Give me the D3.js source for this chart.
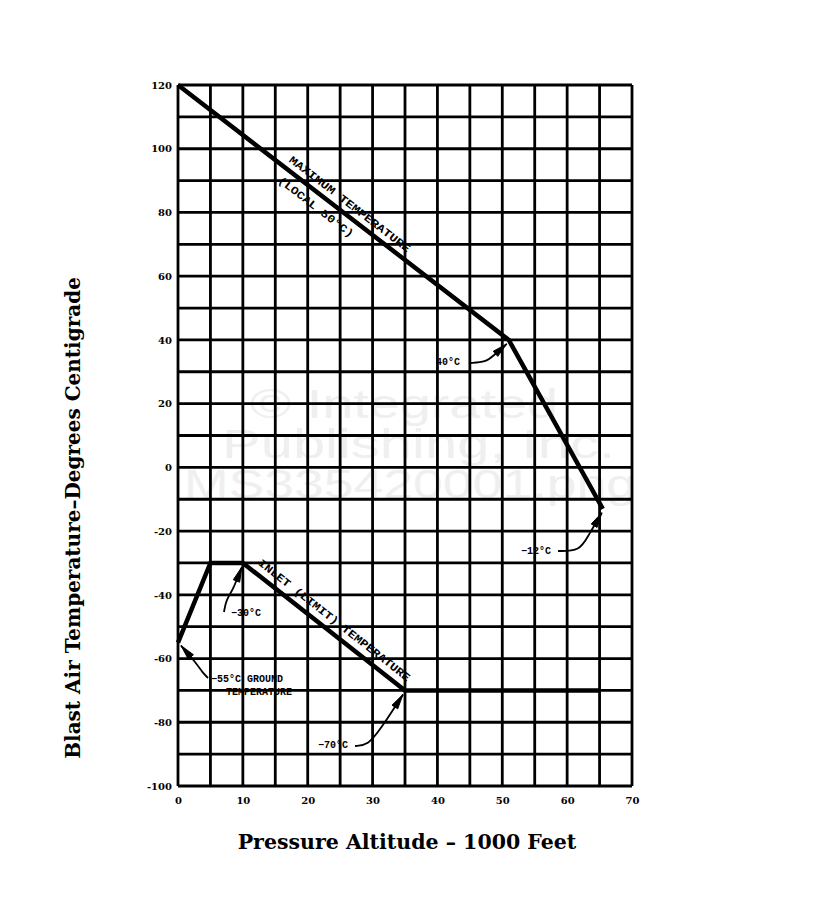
<!DOCTYPE html>
<html>
<head>
<meta charset="utf-8">
<script src="https://cdn.jsdelivr.net/npm/d3@7"></script>
<style>
  html, body { margin: 0; padding: 0; background: #fff; }
  svg { display: block; }
</style>
</head>
<body>
<svg id="chart" width="813" height="899"></svg>
<script>
// altitude (1000 ft) / temperature (deg C)
const maxTempAlt = [0, 51, 65.5];
const maxTempVal = [120, 40, -13];
const inletAlt = [0, 5, 10, 35, 65];
const inletVal = [-55, -30, -30, -70, -70];

const xTickLabels = [0, 10, 20, 30, 40, 50, 60, 70];
const yTickLabels = [120, 100, 80, 60, 40, 20, 0, -20, -40, -60, -80, -100];
const xGrid = d3.range(0, 71, 5);
const yGrid = d3.range(-100, 121, 10);

const svg = d3.select("#chart");

const x = d3.scaleLinear().domain([0, 70]).range([178, 632]);
const y = d3.scaleLinear().domain([-100, 120]).range([786, 85]);

// watermark, sits behind the grid
const wm = svg.append("g")
    .attr("fill", "#efefef")
    .attr("font-family", "Liberation Sans, Arial, sans-serif")
    .attr("font-size", 40);
[["© Integrated", 250, 418, 308], ["Publishing, Inc.", 222, 458, 393], ["MS335420001.png", 184, 498, 452]]
    .forEach(([t, px, py, len]) => {
        wm.append("text").attr("x", px).attr("y", py)
            .attr("textLength", len).attr("lengthAdjust", "spacingAndGlyphs")
            .text(t);
    });

/**
 * Grid
 */
const grid = svg.append("g").attr("stroke", "#000").attr("stroke-width", 2.8);
grid.selectAll(".v").data(xGrid).join("line")
    .attr("x1", d => x(d)).attr("x2", d => x(d))
    .attr("y1", y(120)).attr("y2", y(-100));
grid.selectAll(".h").data(yGrid).join("line")
    .attr("y1", d => y(d)).attr("y2", d => y(d))
    .attr("x1", x(0)).attr("x2", x(70));

/**
 * Axes (labels only, the grid does the rest)
 */
const tickFont = "DejaVu Serif, serif";
const xAxis = svg.append("g").attr("transform", `translate(0, ${y(-100)})`)
    .call(d3.axisBottom(x).tickValues(xTickLabels).tickSize(0).tickPadding(11));
const yAxis = svg.append("g").attr("transform", `translate(${x(0)}, 0)`)
    .call(d3.axisLeft(y).tickValues(yTickLabels).tickSize(0).tickPadding(6)
        .tickFormat(d => String(d)));
[xAxis, yAxis].forEach(a => {
    a.select(".domain").remove();
    a.selectAll("text")
        .attr("font-family", tickFont)
        .attr("font-weight", "bold")
        .attr("font-size", 10)
        .attr("fill", "#000");
});

/**
 * Curves
 */
const line = d3.line().x(d => x(d[0])).y(d => y(d[1]));
const curves = [
    maxTempAlt.map((a, i) => [a, maxTempVal[i]]),
    inletAlt.map((a, i) => [a, inletVal[i]])
];
svg.selectAll(".curve").data(curves).join("path")
    .attr("class", "curve")
    .attr("fill", "none")
    .attr("stroke", "#000")
    .attr("stroke-width", 4.5)
    .attr("stroke-linejoin", "miter")
    .attr("d", line);

// text running along a curve segment
function labelAlong(p0, p1, t, offset, frac, len) {
    const x0 = x(p0[0]), y0 = y(p0[1]), x1 = x(p1[0]), y1 = y(p1[1]);
    const ang = Math.atan2(y1 - y0, x1 - x0) * 180 / Math.PI;
    const cx = x0 + (x1 - x0) * frac, cy = y0 + (y1 - y0) * frac;
    svg.append("text")
        .attr("transform", `translate(${cx},${cy}) rotate(${ang}) translate(${-len / 2},${offset})`)
        .attr("textLength", len).attr("lengthAdjust", "spacingAndGlyphs")
        .attr("font-family", "Liberation Mono, monospace")
        .attr("font-weight", "bold")
        .attr("font-size", 11)
        .attr("fill", "#000")
        .text(t);
}
const c1 = curves[0], c2 = curves[1];
labelAlong(c1[0], c1[1], "MAXIMUM TEMPERATURE", -7, 0.5, 150);
labelAlong(c1[0], c1[1], "(LOCAL 50°C)", 16, 0.44, 92);
labelAlong(c2[2], c2[3], "INLET (LIMIT) TEMPERATURE", -8, 0.52, 190);

/**
 * Annotations with arrows
 */
const ann = svg.append("g").attr("fill", "#000")
    .attr("font-family", "Liberation Mono, monospace")
    .attr("font-weight", "bold")
    .attr("font-size", 10);

function arrow(pathPts, tip) {
    ann.append("path")
        .attr("d", d3.line().curve(d3.curveBasis)(pathPts.concat([tip])))
        .attr("fill", "none").attr("stroke", "#000").attr("stroke-width", 1.8);
    const last = pathPts[pathPts.length - 1];
    const ang = Math.atan2(tip[1] - last[1], tip[0] - last[0]);
    const L = 15, W = 3.4;
    const bx = tip[0] - L * Math.cos(ang), by = tip[1] - L * Math.sin(ang);
    ann.append("path")
        .attr("d", `M${tip[0]},${tip[1]} L${bx + W * Math.sin(ang)},${by - W * Math.cos(ang)} L${bx - W * Math.sin(ang)},${by + W * Math.cos(ang)}Z`)
        .attr("stroke", "#000").attr("stroke-width", 1);
}

const knee = [x(maxTempAlt[1]), y(maxTempVal[1])];
ann.append("text").attr("x", 436).attr("y", 365).text("40°C");
arrow([[470, 363], [486, 362], [493, 356]], [knee[0] - 2, knee[1] + 4]);

const endHi = [x(maxTempAlt[2]), y(maxTempVal[2])];
ann.append("text").attr("x", 521).attr("y", 554).text("−12°C");
arrow([[558, 551], [580, 551], [588, 536]], [endHi[0] - 1, endHi[1] + 4]);

const corner = [x(inletAlt[2]), y(inletVal[2])];
ann.append("text").attr("x", 231).attr("y", 616).text("−30°C");
arrow([[224, 612], [226, 600], [233, 590]], [corner[0] - 1, corner[1] + 4]);

const ground = [x(inletAlt[0]), y(inletVal[0])];
ann.append("text").attr("x", 211).attr("y", 682).text("−55°C GROUND");
ann.append("text").attr("x", 226).attr("y", 695).text("TEMPERATURE");
arrow([[208, 678], [202, 672], [197, 664]], [ground[0] + 3, ground[1] + 3]);

const lowC = [x(inletAlt[3]), y(inletVal[3])];
ann.append("text").attr("x", 318).attr("y", 748).text("−70°C");
arrow([[355, 746], [368, 745], [380, 730]], [lowC[0] - 2, lowC[1] + 4]);

/**
 * Axis titles
 */
svg.append("text")
    .attr("x", 407).attr("y", 849)
    .attr("text-anchor", "middle")
    .attr("font-family", "DejaVu Serif, serif")
    .attr("font-weight", "bold")
    .attr("font-size", 20.5)
    .attr("fill", "#000")
    .text("Pressure Altitude – 1000 Feet");

svg.append("text")
    .attr("transform", "translate(80, 518) rotate(-90)")
    .attr("text-anchor", "middle")
    .attr("font-family", "DejaVu Serif, serif")
    .attr("font-weight", "bold")
    .attr("font-size", 20)
    .attr("fill", "#000")
    .text("Blast Air Temperature–Degrees Centigrade");
</script>
</body>
</html>
